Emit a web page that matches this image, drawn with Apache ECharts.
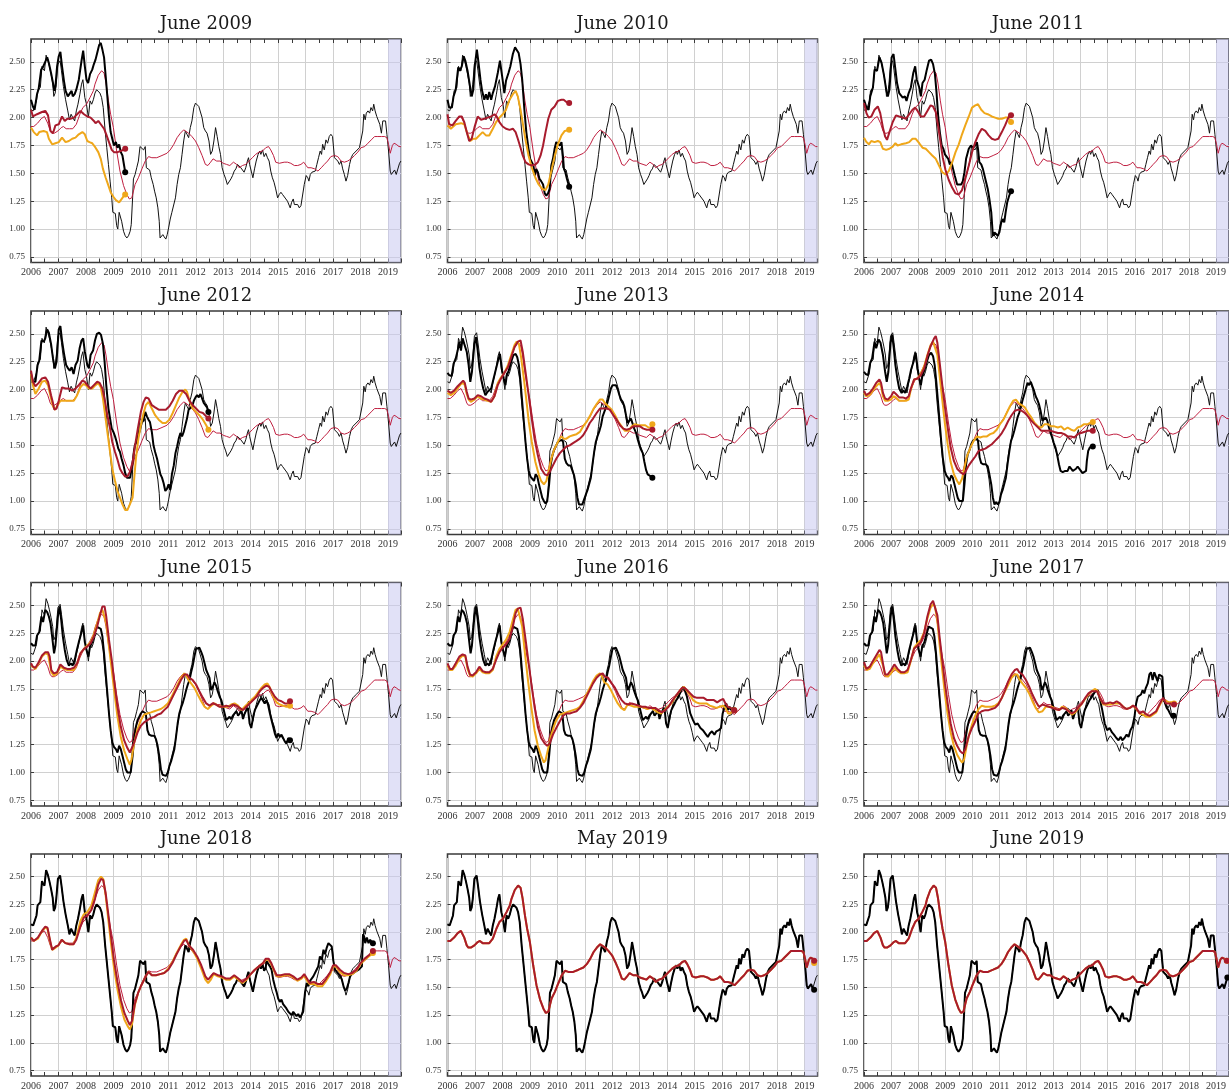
<!DOCTYPE html>
<html>
<head>
<meta charset="utf-8">
<script src="https://cdn.jsdelivr.net/npm/echarts@6/dist/echarts.min.js"></script>
<style>
html,body{margin:0;padding:0;background:#ffffff;}
#chart{width:1229px;height:1091px;}
</style>
</head>
<body>
<div id="chart"></div>
<script>
// ---------- Data: [decimal year, value] ----------

// Latest (fully revised) series, drawn thin in every panel
const finalData = [[2006.00,2.07],[2006.08,2.06],[2006.15,2.06],[2006.20,2.15],[2006.24,2.24],[2006.30,2.25],[2006.34,2.27],[2006.40,2.46],[2006.43,2.44],[2006.49,2.42],[2006.55,2.56],[2006.61,2.52],[2006.67,2.46],[2006.73,2.39],[2006.79,2.31],[2006.83,2.19],[2006.88,2.22],[2006.92,2.30],[2006.98,2.48],[2007.06,2.51],[2007.11,2.42],[2007.18,2.28],[2007.26,2.16],[2007.34,2.06],[2007.40,1.98],[2007.46,2.03],[2007.52,2.00],[2007.59,1.97],[2007.65,2.06],[2007.71,2.12],[2007.78,2.21],[2007.84,2.30],[2007.89,2.34],[2007.96,2.18],[2008.02,2.12],[2008.09,2.00],[2008.15,2.15],[2008.21,2.12],[2008.27,2.16],[2008.33,2.22],[2008.39,2.25],[2008.45,2.24],[2008.51,2.22],[2008.57,2.18],[2008.63,2.09],[2008.70,1.88],[2008.76,1.73],[2008.82,1.58],[2008.88,1.43],[2008.94,1.28],[2008.98,1.15],[2009.02,1.14],[2009.07,1.14],[2009.12,1.03],[2009.16,1.00],[2009.21,1.15],[2009.24,1.16],[2009.30,1.07],[2009.37,0.98],[2009.43,0.94],[2009.49,0.92],[2009.55,0.94],[2009.61,0.98],[2009.65,1.04],[2009.70,1.28],[2009.73,1.45],[2009.79,1.49],[2009.85,1.55],[2009.91,1.61],[2009.97,1.74],[2010.04,1.73],[2010.10,1.71],[2010.16,1.74],[2010.20,1.55],[2010.26,1.54],[2010.32,1.53],[2010.38,1.46],[2010.45,1.40],[2010.50,1.34],[2010.56,1.28],[2010.62,1.19],[2010.67,1.07],[2010.70,0.92],[2010.75,0.93],[2010.80,0.95],[2010.85,0.93],[2010.91,0.91],[2010.96,0.95],[2011.01,1.01],[2011.07,1.09],[2011.13,1.15],[2011.20,1.16],[2011.26,1.28],[2011.32,1.40],[2011.38,1.49],[2011.44,1.55],[2011.50,1.67],[2011.56,1.79],[2011.62,1.88],[2011.68,1.85],[2011.74,1.82],[2011.80,1.91],[2011.86,1.97],[2011.93,2.09],[2011.99,2.13],[2012.05,2.12],[2012.11,2.10],[2012.17,2.09],[2012.23,2.00],[2012.29,1.91],[2012.35,1.88],[2012.41,1.86],[2012.48,1.79],[2012.54,1.67],[2012.60,1.70],[2012.66,1.79],[2012.72,1.91],[2012.78,1.83],[2012.84,1.74],[2012.90,1.67],[2012.96,1.55],[2013.03,1.49],[2013.09,1.45],[2013.15,1.40],[2013.21,1.40],[2013.28,1.45],[2013.34,1.48],[2013.40,1.52],[2013.46,1.54],[2013.52,1.58],[2013.58,1.57],[2013.64,1.55],[2013.70,1.54],[2013.76,1.51],[2013.82,1.55],[2013.88,1.61],[2013.92,1.64],[2013.96,1.58],[2014.02,1.52],[2014.08,1.46],[2014.14,1.54],[2014.20,1.61],[2014.27,1.67],[2014.33,1.70],[2014.37,1.67],[2014.43,1.71],[2014.49,1.65],[2014.55,1.68],[2014.61,1.64],[2014.67,1.61],[2014.73,1.52],[2014.79,1.46],[2014.85,1.42],[2014.91,1.36],[2014.98,1.28],[2015.04,1.31],[2015.10,1.33],[2015.16,1.31],[2015.22,1.30],[2015.28,1.27],[2015.34,1.25],[2015.40,1.25],[2015.44,1.19],[2015.49,1.24],[2015.55,1.27],[2015.59,1.22],[2015.65,1.21],[2015.71,1.22],[2015.77,1.19],[2015.83,1.21],[2015.89,1.21],[2015.95,1.40],[2016.02,1.48],[2016.08,1.46],[2016.12,1.43],[2016.17,1.49],[2016.23,1.51],[2016.29,1.52],[2016.35,1.52],[2016.41,1.58],[2016.47,1.64],[2016.53,1.70],[2016.58,1.67],[2016.62,1.76],[2016.68,1.71],[2016.74,1.80],[2016.80,1.77],[2016.86,1.83],[2016.92,1.85],[2016.98,1.83],[2017.05,1.64],[2017.11,1.63],[2017.17,1.61],[2017.23,1.58],[2017.29,1.61],[2017.35,1.54],[2017.41,1.49],[2017.47,1.43],[2017.53,1.48],[2017.60,1.58],[2017.66,1.64],[2017.72,1.67],[2017.78,1.68],[2017.84,1.70],[2017.90,1.70],[2017.96,1.73],[2018.02,1.74],[2018.08,1.88],[2018.12,2.03],[2018.17,1.98],[2018.21,2.04],[2018.27,2.06],[2018.33,2.04],[2018.38,2.09],[2018.44,2.06],[2018.48,2.12],[2018.53,2.06],[2018.59,2.01],[2018.65,2.01],[2018.70,1.94],[2018.76,1.86],[2018.81,1.97],[2018.87,1.97],[2018.91,1.97],[2018.96,1.85],[2019.02,1.70],[2019.08,1.52],[2019.12,1.49],[2019.18,1.50],[2019.24,1.53],[2019.30,1.49],[2019.36,1.50],[2019.42,1.59],[2019.47,1.61]];

const finalTrend = [[2006.00,1.92],[2006.10,1.92],[2006.24,1.95],[2006.37,1.99],[2006.49,2.01],[2006.55,2.00],[2006.61,1.95],[2006.70,1.88],[2006.76,1.86],[2006.85,1.86],[2006.98,1.88],[2007.10,1.91],[2007.18,1.92],[2007.28,1.90],[2007.40,1.90],[2007.52,1.90],[2007.65,1.94],[2007.78,2.03],[2007.89,2.09],[2008.02,2.12],[2008.15,2.18],[2008.27,2.24],[2008.33,2.30],[2008.45,2.38],[2008.57,2.42],[2008.66,2.40],[2008.73,2.31],[2008.82,2.15],[2008.90,2.03],[2009.00,1.91],[2009.12,1.70],[2009.24,1.52],[2009.37,1.39],[2009.49,1.31],[2009.58,1.27],[2009.67,1.28],[2009.79,1.40],[2009.91,1.46],[2010.04,1.54],[2010.16,1.61],[2010.28,1.65],[2010.40,1.64],[2010.58,1.64],[2010.77,1.66],[2010.95,1.68],[2011.07,1.71],[2011.20,1.76],[2011.32,1.82],[2011.44,1.86],[2011.56,1.89],[2011.62,1.89],[2011.74,1.86],[2011.86,1.83],[2011.99,1.79],[2012.11,1.73],[2012.23,1.66],[2012.35,1.58],[2012.44,1.57],[2012.54,1.60],[2012.63,1.63],[2012.76,1.61],[2012.88,1.61],[2013.00,1.59],[2013.12,1.58],[2013.24,1.57],[2013.37,1.60],[2013.49,1.58],[2013.58,1.55],[2013.70,1.57],[2013.82,1.58],[2013.94,1.61],[2014.06,1.64],[2014.18,1.67],[2014.30,1.69],[2014.43,1.70],[2014.55,1.73],[2014.65,1.74],[2014.73,1.71],[2014.83,1.66],[2014.91,1.60],[2015.04,1.59],[2015.22,1.60],[2015.34,1.60],[2015.46,1.59],[2015.59,1.57],[2015.71,1.57],[2015.83,1.58],[2015.93,1.60],[2016.02,1.57],[2016.08,1.55],[2016.20,1.55],[2016.33,1.54],[2016.45,1.52],[2016.57,1.55],[2016.68,1.58],[2016.80,1.61],[2016.92,1.65],[2017.05,1.66],[2017.17,1.65],[2017.29,1.61],[2017.41,1.60],[2017.53,1.61],[2017.66,1.63],[2017.78,1.66],[2017.90,1.69],[2018.02,1.73],[2018.15,1.74],[2018.27,1.77],[2018.39,1.80],[2018.51,1.83],[2018.63,1.83],[2018.76,1.83],[2018.88,1.83],[2018.96,1.82],[2019.02,1.76],[2019.08,1.68],[2019.16,1.75],[2019.22,1.77],[2019.30,1.76],[2019.40,1.74],[2019.47,1.74]];

// Real-time vintages (thick black), real-time trend (thick red), alternative trend (thick orange)
const rtData2009 = [[2006.00,2.16],[2006.07,2.10],[2006.13,2.07],[2006.22,2.21],[2006.28,2.26],[2006.37,2.43],[2006.43,2.45],[2006.50,2.46],[2006.59,2.54],[2006.65,2.49],[2006.73,2.40],[2006.80,2.31],[2006.85,2.24],[2006.89,2.28],[2006.95,2.46],[2007.01,2.55],[2007.07,2.59],[2007.13,2.46],[2007.20,2.33],[2007.26,2.24],[2007.34,2.19],[2007.40,2.18],[2007.48,2.24],[2007.52,2.19],[2007.59,2.21],[2007.65,2.25],[2007.74,2.34],[2007.84,2.51],[2007.90,2.60],[2007.96,2.46],[2008.02,2.34],[2008.08,2.31],[2008.15,2.39],[2008.23,2.43],[2008.29,2.48],[2008.35,2.52],[2008.41,2.58],[2008.48,2.65],[2008.54,2.67],[2008.60,2.61],[2008.66,2.54],[2008.72,2.37],[2008.78,2.19],[2008.84,2.01],[2008.90,1.87],[2008.96,1.81],[2009.02,1.75],[2009.09,1.78],[2009.15,1.73],[2009.21,1.76],[2009.27,1.69],[2009.33,1.66],[2009.39,1.57],[2009.43,1.51]];
const rtTrend2009 = [[2006.00,2.07],[2006.07,2.01],[2006.22,2.03],[2006.40,2.05],[2006.52,2.06],[2006.62,2.02],[2006.71,1.88],[2006.80,1.86],[2006.89,1.93],[2007.01,1.94],[2007.13,2.01],[2007.23,1.97],[2007.32,1.99],[2007.44,1.99],[2007.56,2.00],[2007.68,2.03],[2007.80,2.06],[2007.93,2.03],[2008.05,2.01],[2008.17,2.00],[2008.29,1.97],[2008.35,1.95],[2008.45,1.97],[2008.54,1.94],[2008.66,1.90],[2008.74,1.85],[2008.84,1.78],[2008.94,1.71],[2009.02,1.69],[2009.15,1.69],[2009.27,1.70],[2009.35,1.71],[2009.43,1.72]];
const rtAlt2009 = [[2006.00,1.91],[2006.10,1.87],[2006.22,1.84],[2006.30,1.87],[2006.46,1.88],[2006.58,1.87],[2006.65,1.81],[2006.77,1.76],[2006.89,1.77],[2007.01,1.78],[2007.13,1.82],[2007.26,1.78],[2007.38,1.79],[2007.50,1.81],[2007.62,1.82],[2007.74,1.85],[2007.87,1.87],[2007.96,1.85],[2008.05,1.79],[2008.13,1.78],[2008.23,1.77],[2008.35,1.73],[2008.45,1.69],[2008.54,1.63],[2008.62,1.54],[2008.72,1.46],[2008.82,1.39],[2008.90,1.33],[2009.00,1.29],[2009.09,1.26],[2009.21,1.24],[2009.27,1.25],[2009.33,1.28],[2009.39,1.30],[2009.43,1.31]];

const rtData2010 = [[2006.00,2.16],[2006.06,2.09],[2006.16,2.09],[2006.22,2.19],[2006.30,2.25],[2006.39,2.45],[2006.45,2.42],[2006.52,2.46],[2006.59,2.55],[2006.65,2.51],[2006.73,2.42],[2006.82,2.28],[2006.88,2.19],[2006.94,2.25],[2007.00,2.48],[2007.07,2.61],[2007.13,2.49],[2007.20,2.34],[2007.26,2.24],[2007.34,2.16],[2007.40,2.21],[2007.46,2.16],[2007.52,2.23],[2007.59,2.16],[2007.65,2.22],[2007.73,2.28],[2007.83,2.40],[2007.91,2.51],[2007.99,2.37],[2008.07,2.22],[2008.13,2.33],[2008.22,2.40],[2008.29,2.46],[2008.38,2.57],[2008.46,2.63],[2008.52,2.63],[2008.59,2.58],[2008.66,2.48],[2008.72,2.34],[2008.80,2.07],[2008.87,1.87],[2008.95,1.72],[2009.01,1.63],[2009.07,1.60],[2009.13,1.57],[2009.18,1.48],[2009.23,1.54],[2009.29,1.51],[2009.35,1.45],[2009.41,1.43],[2009.48,1.40],[2009.54,1.32],[2009.60,1.30],[2009.66,1.32],[2009.72,1.36],[2009.78,1.57],[2009.84,1.63],[2009.90,1.72],[2009.96,1.78],[2010.02,1.79],[2010.09,1.75],[2010.15,1.78],[2010.21,1.64],[2010.24,1.54],[2010.29,1.51],[2010.35,1.45],[2010.43,1.38]];
const rtTrend2010 = [[2006.00,2.03],[2006.06,1.94],[2006.18,1.93],[2006.30,1.97],[2006.43,2.01],[2006.52,2.01],[2006.61,1.96],[2006.70,1.87],[2006.79,1.79],[2006.88,1.81],[2006.98,1.91],[2007.10,2.01],[2007.22,1.98],[2007.34,1.99],[2007.46,2.00],[2007.59,2.01],[2007.71,2.03],[2007.79,2.01],[2007.89,1.96],[2008.01,1.92],[2008.13,1.90],[2008.26,1.89],[2008.38,1.90],[2008.48,1.87],[2008.56,1.81],[2008.66,1.73],[2008.74,1.66],[2008.84,1.60],[2008.95,1.58],[2009.07,1.57],[2009.20,1.58],[2009.29,1.60],[2009.39,1.66],[2009.48,1.75],[2009.57,1.87],[2009.67,1.99],[2009.78,2.07],[2009.90,2.10],[2010.02,2.15],[2010.15,2.16],[2010.23,2.16],[2010.33,2.14],[2010.43,2.13]];
const rtAlt2010 = [[2006.00,1.93],[2006.12,1.90],[2006.30,1.94],[2006.49,1.95],[2006.61,1.94],[2006.73,1.85],[2006.83,1.79],[2006.94,1.81],[2007.04,1.81],[2007.16,1.84],[2007.28,1.87],[2007.40,1.84],[2007.52,1.84],[2007.65,1.90],[2007.77,1.96],[2007.89,2.00],[2008.01,2.03],[2008.13,2.07],[2008.26,2.16],[2008.38,2.21],[2008.48,2.24],[2008.56,2.19],[2008.66,2.07],[2008.74,1.95],[2008.84,1.80],[2008.95,1.66],[2009.07,1.55],[2009.20,1.46],[2009.32,1.40],[2009.45,1.36],[2009.57,1.35],[2009.67,1.40],[2009.78,1.52],[2009.90,1.65],[2010.02,1.76],[2010.15,1.84],[2010.27,1.88],[2010.43,1.89]];

const rtData2011 = [[2006.00,2.16],[2006.09,2.09],[2006.17,2.07],[2006.23,2.19],[2006.33,2.27],[2006.39,2.43],[2006.48,2.42],[2006.57,2.54],[2006.65,2.49],[2006.73,2.39],[2006.82,2.25],[2006.88,2.19],[2006.94,2.25],[2007.02,2.54],[2007.09,2.57],[2007.16,2.43],[2007.22,2.31],[2007.30,2.22],[2007.37,2.21],[2007.43,2.18],[2007.51,2.19],[2007.57,2.15],[2007.65,2.22],[2007.73,2.27],[2007.82,2.40],[2007.89,2.46],[2007.95,2.34],[2008.04,2.27],[2008.10,2.19],[2008.16,2.31],[2008.24,2.34],[2008.32,2.43],[2008.40,2.51],[2008.48,2.52],[2008.55,2.48],[2008.62,2.39],[2008.68,2.22],[2008.74,2.01],[2008.80,1.87],[2008.87,1.75],[2008.93,1.72],[2008.99,1.67],[2009.05,1.66],[2009.11,1.63],[2009.17,1.58],[2009.23,1.60],[2009.29,1.54],[2009.35,1.48],[2009.44,1.40],[2009.50,1.40],[2009.59,1.40],[2009.65,1.43],[2009.71,1.51],[2009.77,1.63],[2009.87,1.72],[2009.95,1.75],[2010.02,1.73],[2010.11,1.75],[2010.17,1.78],[2010.21,1.72],[2010.26,1.60],[2010.33,1.58],[2010.39,1.54],[2010.45,1.48],[2010.51,1.42],[2010.57,1.36],[2010.63,1.27],[2010.70,1.15],[2010.76,0.94],[2010.82,0.97],[2010.88,0.97],[2010.94,0.94],[2011.00,0.97],[2011.06,1.05],[2011.12,1.09],[2011.18,1.06],[2011.23,1.15],[2011.29,1.24],[2011.35,1.29],[2011.43,1.34]];
const rtTrend2011 = [[2006.00,2.13],[2006.09,2.04],[2006.17,2.00],[2006.27,2.01],[2006.39,2.07],[2006.51,2.10],[2006.60,2.04],[2006.70,1.91],[2006.78,1.83],[2006.85,1.80],[2006.94,1.87],[2007.06,1.96],[2007.18,2.02],[2007.30,2.01],[2007.43,2.00],[2007.55,1.99],[2007.67,2.03],[2007.79,2.07],[2007.89,2.09],[2007.98,2.06],[2008.10,2.01],[2008.22,2.01],[2008.34,2.06],[2008.46,2.11],[2008.55,2.10],[2008.65,2.05],[2008.74,1.92],[2008.83,1.77],[2008.91,1.64],[2009.01,1.53],[2009.13,1.44],[2009.26,1.37],[2009.38,1.32],[2009.50,1.31],[2009.62,1.35],[2009.74,1.45],[2009.87,1.57],[2009.99,1.69],[2010.11,1.78],[2010.23,1.85],[2010.35,1.90],[2010.48,1.88],[2010.60,1.84],[2010.72,1.81],[2010.84,1.80],[2010.96,1.81],[2011.09,1.87],[2011.21,1.93],[2011.33,2.00],[2011.43,2.02]];
const rtAlt2011 = [[2006.00,1.82],[2006.09,1.78],[2006.18,1.76],[2006.27,1.79],[2006.39,1.78],[2006.51,1.79],[2006.60,1.78],[2006.70,1.72],[2006.82,1.71],[2006.94,1.72],[2007.06,1.74],[2007.16,1.77],[2007.24,1.75],[2007.37,1.76],[2007.55,1.77],[2007.67,1.78],[2007.79,1.81],[2007.91,1.81],[2008.04,1.77],[2008.16,1.73],[2008.28,1.72],[2008.40,1.69],[2008.52,1.66],[2008.65,1.63],[2008.77,1.57],[2008.89,1.51],[2009.01,1.49],[2009.13,1.52],[2009.26,1.60],[2009.38,1.69],[2009.50,1.76],[2009.62,1.85],[2009.74,1.93],[2009.87,2.01],[2009.99,2.09],[2010.11,2.11],[2010.21,2.12],[2010.33,2.07],[2010.45,2.04],[2010.57,2.03],[2010.72,2.01],[2010.84,2.00],[2010.96,1.99],[2011.09,1.99],[2011.21,2.00],[2011.33,2.00],[2011.43,1.96]];

const rtData2012 = [[2006.00,2.14],[2006.07,2.07],[2006.16,2.07],[2006.24,2.22],[2006.30,2.26],[2006.38,2.44],[2006.46,2.43],[2006.52,2.46],[2006.59,2.54],[2006.65,2.51],[2006.73,2.41],[2006.80,2.28],[2006.87,2.19],[2006.93,2.25],[2007.01,2.54],[2007.07,2.57],[2007.13,2.44],[2007.21,2.31],[2007.28,2.22],[2007.35,2.19],[2007.41,2.17],[2007.48,2.20],[2007.55,2.14],[2007.62,2.22],[2007.70,2.26],[2007.77,2.37],[2007.84,2.44],[2007.90,2.46],[2007.96,2.34],[2008.05,2.22],[2008.11,2.19],[2008.17,2.31],[2008.26,2.35],[2008.33,2.44],[2008.40,2.50],[2008.48,2.51],[2008.55,2.49],[2008.62,2.41],[2008.68,2.25],[2008.74,2.04],[2008.82,1.83],[2008.88,1.74],[2008.94,1.65],[2009.00,1.62],[2009.06,1.58],[2009.12,1.53],[2009.18,1.47],[2009.24,1.44],[2009.30,1.38],[2009.37,1.32],[2009.43,1.25],[2009.49,1.21],[2009.55,1.20],[2009.61,1.21],[2009.67,1.22],[2009.72,1.38],[2009.78,1.50],[2009.84,1.53],[2009.91,1.59],[2009.98,1.65],[2010.04,1.71],[2010.10,1.73],[2010.16,1.80],[2010.22,1.76],[2010.28,1.73],[2010.33,1.71],[2010.40,1.62],[2010.46,1.50],[2010.52,1.44],[2010.59,1.38],[2010.65,1.31],[2010.71,1.24],[2010.77,1.21],[2010.83,1.16],[2010.89,1.09],[2010.95,1.11],[2011.01,1.15],[2011.07,1.10],[2011.13,1.24],[2011.20,1.32],[2011.26,1.43],[2011.32,1.49],[2011.38,1.56],[2011.44,1.61],[2011.50,1.58],[2011.56,1.62],[2011.62,1.68],[2011.68,1.74],[2011.74,1.82],[2011.80,1.83],[2011.87,1.85],[2011.93,1.90],[2011.99,1.93],[2012.05,1.95],[2012.11,1.93],[2012.17,1.96],[2012.23,1.92],[2012.29,1.88],[2012.35,1.86],[2012.41,1.84],[2012.46,1.80]];
const rtTrend2012 = [[2006.00,2.17],[2006.07,2.07],[2006.16,2.03],[2006.28,2.06],[2006.40,2.10],[2006.52,2.11],[2006.62,2.07],[2006.73,1.95],[2006.80,1.88],[2006.85,1.82],[2006.93,1.83],[2007.01,1.90],[2007.13,2.02],[2007.26,2.01],[2007.38,2.01],[2007.50,1.99],[2007.62,2.01],[2007.74,2.04],[2007.87,2.08],[2007.96,2.07],[2008.05,2.04],[2008.17,2.01],[2008.29,2.04],[2008.41,2.07],[2008.50,2.06],[2008.60,2.01],[2008.70,1.89],[2008.78,1.77],[2008.88,1.65],[2008.96,1.53],[2009.06,1.44],[2009.15,1.37],[2009.24,1.29],[2009.33,1.25],[2009.43,1.22],[2009.51,1.22],[2009.60,1.26],[2009.70,1.35],[2009.79,1.50],[2009.89,1.65],[2010.00,1.80],[2010.10,1.89],[2010.18,1.93],[2010.28,1.92],[2010.40,1.86],[2010.52,1.84],[2010.65,1.82],[2010.79,1.82],[2010.91,1.82],[2011.04,1.85],[2011.16,1.90],[2011.28,1.96],[2011.40,1.99],[2011.52,1.99],[2011.65,1.96],[2011.77,1.90],[2011.89,1.86],[2012.01,1.83],[2012.13,1.80],[2012.26,1.79],[2012.38,1.76],[2012.46,1.74]];
const rtAlt2012 = [[2006.00,2.14],[2006.07,2.04],[2006.16,1.96],[2006.28,2.01],[2006.40,2.07],[2006.52,2.08],[2006.62,2.04],[2006.73,1.92],[2006.80,1.85],[2006.87,1.82],[2006.95,1.85],[2007.07,1.90],[2007.20,1.90],[2007.32,1.90],[2007.44,1.90],[2007.56,1.90],[2007.68,1.95],[2007.80,2.02],[2007.90,2.05],[2007.99,2.04],[2008.11,2.01],[2008.23,2.01],[2008.35,2.04],[2008.45,2.06],[2008.54,2.02],[2008.62,1.92],[2008.70,1.77],[2008.78,1.62],[2008.88,1.44],[2008.96,1.29],[2009.06,1.18],[2009.15,1.09],[2009.24,1.03],[2009.33,0.97],[2009.43,0.92],[2009.51,0.92],[2009.60,0.97],[2009.70,1.03],[2009.76,1.21],[2009.82,1.38],[2009.91,1.56],[2010.00,1.68],[2010.10,1.79],[2010.18,1.86],[2010.28,1.89],[2010.40,1.83],[2010.52,1.77],[2010.65,1.73],[2010.79,1.70],[2010.91,1.70],[2011.04,1.73],[2011.16,1.79],[2011.28,1.86],[2011.40,1.93],[2011.52,1.98],[2011.62,2.00],[2011.68,1.98],[2011.77,1.90],[2011.89,1.83],[2012.01,1.80],[2012.13,1.77],[2012.26,1.73],[2012.38,1.68],[2012.46,1.64]];

const rtData2013 = [[2006.00,2.15],[2006.06,2.13],[2006.15,2.12],[2006.22,2.23],[2006.30,2.28],[2006.37,2.35],[2006.43,2.43],[2006.49,2.35],[2006.55,2.46],[2006.61,2.41],[2006.70,2.34],[2006.77,2.22],[2006.83,2.07],[2006.89,2.16],[2006.98,2.41],[2007.04,2.47],[2007.10,2.35],[2007.16,2.20],[2007.23,2.09],[2007.30,2.01],[2007.38,1.95],[2007.46,1.98],[2007.52,1.97],[2007.59,2.01],[2007.67,2.09],[2007.74,2.16],[2007.83,2.25],[2007.91,2.32],[2007.99,2.17],[2008.05,2.10],[2008.11,2.04],[2008.16,2.13],[2008.23,2.17],[2008.32,2.25],[2008.40,2.31],[2008.48,2.32],[2008.54,2.29],[2008.60,2.22],[2008.66,2.07],[2008.72,1.89],[2008.78,1.71],[2008.84,1.53],[2008.90,1.38],[2008.96,1.27],[2009.02,1.22],[2009.09,1.21],[2009.15,1.18],[2009.21,1.24],[2009.27,1.22],[2009.33,1.15],[2009.39,1.09],[2009.45,1.03],[2009.51,1.00],[2009.57,0.98],[2009.63,1.00],[2009.70,1.15],[2009.76,1.33],[2009.82,1.41],[2009.88,1.46],[2009.96,1.50],[2010.02,1.53],[2010.09,1.54],[2010.15,1.55],[2010.21,1.53],[2010.27,1.38],[2010.33,1.34],[2010.40,1.32],[2010.48,1.32],[2010.55,1.31],[2010.61,1.23],[2010.67,1.15],[2010.73,1.03],[2010.79,0.97],[2010.85,0.98],[2010.91,0.97],[2010.98,0.98],[2011.04,1.06],[2011.10,1.10],[2011.16,1.09],[2011.22,1.21],[2011.28,1.33],[2011.34,1.44],[2011.40,1.53],[2011.46,1.58],[2011.52,1.62],[2011.59,1.68],[2011.65,1.76],[2011.71,1.80],[2011.77,1.84],[2011.83,1.89],[2011.89,1.95],[2011.95,2.01],[2012.01,2.04],[2012.07,2.03],[2012.13,2.04],[2012.20,2.00],[2012.26,1.95],[2012.32,1.91],[2012.38,1.89],[2012.44,1.85],[2012.50,1.77],[2012.56,1.70],[2012.62,1.71],[2012.68,1.74],[2012.74,1.73],[2012.80,1.65],[2012.87,1.61],[2012.93,1.55],[2012.99,1.50],[2013.05,1.46],[2013.11,1.43],[2013.17,1.35],[2013.23,1.28],[2013.29,1.24],[2013.35,1.23],[2013.41,1.22],[2013.46,1.21]];
const rtTrend2013 = [[2006.00,1.99],[2006.12,1.97],[2006.24,1.99],[2006.37,2.03],[2006.49,2.06],[2006.57,2.08],[2006.63,2.06],[2006.70,1.98],[2006.77,1.92],[2006.85,1.91],[2006.98,1.92],[2007.10,1.95],[2007.22,1.94],[2007.34,1.92],[2007.46,1.91],[2007.59,1.89],[2007.71,1.94],[2007.83,2.04],[2007.95,2.10],[2008.07,2.15],[2008.20,2.20],[2008.32,2.29],[2008.44,2.38],[2008.56,2.43],[2008.66,2.44],[2008.74,2.34],[2008.84,2.16],[2008.94,1.98],[2009.05,1.77],[2009.17,1.56],[2009.29,1.41],[2009.41,1.29],[2009.54,1.24],[2009.63,1.23],[2009.72,1.26],[2009.84,1.32],[2009.96,1.38],[2010.09,1.43],[2010.21,1.46],[2010.33,1.49],[2010.45,1.50],[2010.57,1.52],[2010.70,1.54],[2010.82,1.56],[2010.94,1.59],[2011.06,1.64],[2011.18,1.70],[2011.30,1.74],[2011.43,1.79],[2011.55,1.83],[2011.67,1.83],[2011.79,1.83],[2011.91,1.82],[2012.04,1.77],[2012.16,1.73],[2012.28,1.68],[2012.40,1.65],[2012.52,1.64],[2012.65,1.65],[2012.77,1.67],[2012.89,1.67],[2013.01,1.67],[2013.13,1.65],[2013.26,1.64],[2013.38,1.64],[2013.46,1.64]];
const rtAlt2013 = [[2006.00,1.97],[2006.12,1.95],[2006.24,1.97],[2006.37,2.01],[2006.49,2.05],[2006.57,2.06],[2006.63,2.04],[2006.70,1.96],[2006.77,1.91],[2006.85,1.89],[2006.98,1.91],[2007.10,1.94],[2007.22,1.92],[2007.34,1.91],[2007.46,1.90],[2007.59,1.89],[2007.71,1.94],[2007.83,2.06],[2007.95,2.11],[2008.07,2.15],[2008.20,2.22],[2008.32,2.31],[2008.44,2.40],[2008.52,2.43],[2008.60,2.41],[2008.68,2.29],[2008.78,2.10],[2008.87,1.91],[2008.96,1.71],[2009.07,1.53],[2009.20,1.35],[2009.32,1.24],[2009.41,1.18],[2009.51,1.15],[2009.60,1.18],[2009.70,1.29],[2009.78,1.38],[2009.88,1.46],[2009.96,1.50],[2010.06,1.55],[2010.15,1.58],[2010.23,1.56],[2010.33,1.56],[2010.45,1.58],[2010.57,1.59],[2010.70,1.60],[2010.82,1.62],[2010.94,1.67],[2011.06,1.71],[2011.18,1.76],[2011.30,1.82],[2011.43,1.87],[2011.55,1.91],[2011.65,1.91],[2011.73,1.88],[2011.85,1.85],[2011.98,1.82],[2012.10,1.77],[2012.22,1.71],[2012.34,1.67],[2012.46,1.63],[2012.59,1.63],[2012.71,1.67],[2012.83,1.69],[2012.95,1.68],[2013.07,1.68],[2013.20,1.68],[2013.32,1.66],[2013.40,1.66],[2013.46,1.69]];

const rtData2014 = [[2006.00,2.16],[2006.06,2.14],[2006.15,2.13],[2006.23,2.24],[2006.30,2.28],[2006.39,2.43],[2006.45,2.37],[2006.54,2.45],[2006.61,2.42],[2006.70,2.31],[2006.78,2.16],[2006.84,2.07],[2006.90,2.16],[2006.98,2.42],[2007.04,2.49],[2007.10,2.37],[2007.16,2.22],[2007.23,2.10],[2007.30,2.01],[2007.39,1.97],[2007.46,1.99],[2007.52,1.97],[2007.60,2.03],[2007.67,2.10],[2007.74,2.18],[2007.83,2.25],[2007.91,2.33],[2007.98,2.19],[2008.04,2.10],[2008.10,2.04],[2008.16,2.13],[2008.24,2.18],[2008.32,2.25],[2008.40,2.31],[2008.48,2.33],[2008.55,2.30],[2008.61,2.22],[2008.67,2.07],[2008.73,1.90],[2008.79,1.72],[2008.85,1.54],[2008.91,1.39],[2008.98,1.27],[2009.04,1.23],[2009.10,1.21],[2009.16,1.18],[2009.22,1.23],[2009.28,1.21],[2009.34,1.15],[2009.40,1.09],[2009.46,1.03],[2009.52,1.00],[2009.59,0.99],[2009.65,1.00],[2009.71,1.15],[2009.77,1.33],[2009.83,1.42],[2009.90,1.46],[2009.96,1.51],[2010.02,1.54],[2010.09,1.55],[2010.15,1.56],[2010.21,1.54],[2010.27,1.39],[2010.33,1.34],[2010.41,1.33],[2010.50,1.33],[2010.57,1.31],[2010.63,1.24],[2010.70,1.15],[2010.76,1.03],[2010.82,0.97],[2010.88,0.99],[2010.94,0.97],[2011.00,0.99],[2011.06,1.06],[2011.12,1.10],[2011.18,1.10],[2011.24,1.21],[2011.30,1.33],[2011.37,1.45],[2011.43,1.54],[2011.49,1.58],[2011.55,1.63],[2011.61,1.69],[2011.67,1.75],[2011.73,1.79],[2011.79,1.84],[2011.85,1.90],[2011.91,1.95],[2011.98,2.01],[2012.04,2.06],[2012.10,2.04],[2012.16,2.07],[2012.22,2.03],[2012.28,1.99],[2012.34,1.94],[2012.40,1.91],[2012.46,1.87],[2012.52,1.81],[2012.59,1.72],[2012.65,1.73],[2012.71,1.75],[2012.77,1.72],[2012.83,1.66],[2012.89,1.61],[2012.95,1.57],[2013.01,1.52],[2013.07,1.48],[2013.13,1.42],[2013.20,1.33],[2013.26,1.27],[2013.34,1.26],[2013.43,1.27],[2013.52,1.27],[2013.59,1.31],[2013.65,1.32],[2013.71,1.27],[2013.77,1.26],[2013.83,1.29],[2013.89,1.31],[2013.95,1.32],[2014.01,1.27],[2014.07,1.25],[2014.13,1.24],[2014.20,1.27],[2014.23,1.36],[2014.28,1.45],[2014.34,1.48],[2014.40,1.48],[2014.45,1.49]];
const rtTrend2014 = [[2006.00,1.99],[2006.08,1.95],[2006.21,1.97],[2006.33,2.01],[2006.45,2.06],[2006.57,2.09],[2006.63,2.06],[2006.70,1.97],[2006.78,1.92],[2006.88,1.91],[2007.00,1.94],[2007.09,1.98],[2007.18,1.96],[2007.30,1.93],[2007.43,1.93],[2007.55,1.92],[2007.65,1.94],[2007.73,2.01],[2007.85,2.09],[2007.98,2.10],[2008.10,2.13],[2008.22,2.19],[2008.34,2.30],[2008.46,2.39],[2008.59,2.46],[2008.65,2.48],[2008.71,2.42],[2008.79,2.25],[2008.89,2.04],[2008.99,1.84],[2009.09,1.66],[2009.20,1.48],[2009.32,1.36],[2009.44,1.29],[2009.56,1.26],[2009.68,1.24],[2009.74,1.26],[2009.87,1.32],[2009.99,1.36],[2010.11,1.40],[2010.23,1.45],[2010.35,1.46],[2010.48,1.47],[2010.60,1.49],[2010.72,1.51],[2010.84,1.54],[2010.96,1.57],[2011.09,1.61],[2011.21,1.66],[2011.33,1.72],[2011.45,1.77],[2011.57,1.81],[2011.70,1.82],[2011.82,1.81],[2011.94,1.79],[2012.06,1.76],[2012.18,1.72],[2012.30,1.69],[2012.43,1.66],[2012.55,1.63],[2012.67,1.63],[2012.79,1.63],[2012.91,1.63],[2013.03,1.62],[2013.16,1.61],[2013.28,1.61],[2013.40,1.60],[2013.52,1.58],[2013.65,1.58],[2013.77,1.57],[2013.89,1.60],[2014.01,1.61],[2014.13,1.62],[2014.26,1.63],[2014.35,1.63],[2014.45,1.63]];
const rtAlt2014 = [[2006.00,1.97],[2006.08,1.94],[2006.21,1.95],[2006.33,1.99],[2006.45,2.03],[2006.57,2.06],[2006.63,2.03],[2006.70,1.94],[2006.78,1.90],[2006.88,1.90],[2007.00,1.91],[2007.09,1.94],[2007.18,1.93],[2007.30,1.90],[2007.43,1.90],[2007.55,1.90],[2007.65,1.91],[2007.73,2.00],[2007.85,2.09],[2007.98,2.10],[2008.10,2.14],[2008.22,2.21],[2008.34,2.31],[2008.46,2.40],[2008.55,2.43],[2008.62,2.42],[2008.71,2.31],[2008.79,2.13],[2008.89,1.91],[2008.99,1.69],[2009.09,1.51],[2009.20,1.35],[2009.32,1.24],[2009.44,1.18],[2009.52,1.15],[2009.62,1.20],[2009.71,1.30],[2009.80,1.40],[2009.93,1.48],[2010.05,1.54],[2010.17,1.58],[2010.29,1.57],[2010.41,1.58],[2010.54,1.58],[2010.66,1.60],[2010.78,1.61],[2010.90,1.64],[2011.02,1.69],[2011.15,1.73],[2011.27,1.79],[2011.39,1.85],[2011.51,1.90],[2011.61,1.91],[2011.70,1.88],[2011.82,1.86],[2011.94,1.84],[2012.06,1.79],[2012.18,1.75],[2012.30,1.70],[2012.43,1.67],[2012.55,1.66],[2012.67,1.69],[2012.79,1.69],[2012.91,1.67],[2013.03,1.67],[2013.16,1.66],[2013.28,1.67],[2013.40,1.64],[2013.52,1.66],[2013.65,1.64],[2013.77,1.63],[2013.89,1.66],[2014.01,1.67],[2014.13,1.69],[2014.26,1.69],[2014.35,1.70],[2014.45,1.71]];

const rtData2015 = [[2006.00,2.16],[2006.07,2.14],[2006.16,2.14],[2006.22,2.23],[2006.30,2.26],[2006.38,2.40],[2006.44,2.35],[2006.52,2.46],[2006.59,2.44],[2006.65,2.40],[2006.71,2.34],[2006.77,2.22],[2006.84,2.07],[2006.89,2.14],[2006.98,2.40],[2007.04,2.49],[2007.10,2.37],[2007.16,2.22],[2007.23,2.10],[2007.30,2.01],[2007.38,1.96],[2007.45,1.98],[2007.52,1.96],[2007.60,2.02],[2007.67,2.10],[2007.74,2.17],[2007.83,2.25],[2007.90,2.32],[2007.96,2.17],[2008.02,2.10],[2008.09,2.04],[2008.15,2.13],[2008.23,2.17],[2008.32,2.25],[2008.39,2.31],[2008.46,2.32],[2008.54,2.29],[2008.60,2.22],[2008.66,2.07],[2008.72,1.89],[2008.78,1.71],[2008.84,1.53],[2008.90,1.38],[2008.96,1.27],[2009.02,1.23],[2009.09,1.21],[2009.15,1.18],[2009.21,1.24],[2009.27,1.21],[2009.33,1.15],[2009.39,1.09],[2009.45,1.03],[2009.51,1.00],[2009.57,0.99],[2009.63,1.00],[2009.70,1.15],[2009.76,1.32],[2009.82,1.41],[2009.88,1.47],[2009.94,1.50],[2010.00,1.53],[2010.06,1.55],[2010.12,1.56],[2010.18,1.53],[2010.24,1.38],[2010.30,1.34],[2010.39,1.33],[2010.49,1.33],[2010.55,1.30],[2010.61,1.24],[2010.67,1.15],[2010.73,1.03],[2010.79,0.98],[2010.85,0.99],[2010.91,0.97],[2010.98,1.00],[2011.04,1.06],[2011.10,1.10],[2011.16,1.10],[2011.22,1.21],[2011.28,1.32],[2011.34,1.44],[2011.40,1.53],[2011.46,1.58],[2011.52,1.62],[2011.59,1.68],[2011.65,1.74],[2011.71,1.79],[2011.77,1.83],[2011.83,1.90],[2011.89,1.96],[2011.95,2.04],[2012.01,2.11],[2012.07,2.10],[2012.13,2.12],[2012.20,2.08],[2012.26,2.04],[2012.32,1.98],[2012.38,1.92],[2012.44,1.91],[2012.50,1.85],[2012.56,1.74],[2012.62,1.77],[2012.68,1.81],[2012.74,1.78],[2012.80,1.73],[2012.87,1.68],[2012.93,1.65],[2012.99,1.59],[2013.05,1.53],[2013.11,1.47],[2013.17,1.47],[2013.23,1.50],[2013.29,1.48],[2013.35,1.51],[2013.41,1.50],[2013.48,1.55],[2013.54,1.51],[2013.60,1.53],[2013.66,1.56],[2013.72,1.48],[2013.78,1.53],[2013.84,1.56],[2013.90,1.58],[2013.96,1.44],[2014.02,1.40],[2014.09,1.50],[2014.15,1.56],[2014.21,1.59],[2014.27,1.62],[2014.33,1.65],[2014.39,1.67],[2014.45,1.68],[2014.51,1.62],[2014.57,1.65],[2014.63,1.61],[2014.70,1.53],[2014.76,1.47],[2014.82,1.41],[2014.88,1.35],[2014.94,1.31],[2015.00,1.35],[2015.06,1.32],[2015.12,1.34],[2015.18,1.31],[2015.24,1.28],[2015.30,1.26],[2015.37,1.31],[2015.43,1.29]];
const rtTrend2015 = [[2006.00,1.98],[2006.07,1.95],[2006.16,1.94],[2006.28,1.99],[2006.40,2.05],[2006.52,2.08],[2006.62,2.08],[2006.68,2.04],[2006.74,1.92],[2006.83,1.89],[2006.95,1.90],[2007.07,1.97],[2007.20,1.94],[2007.32,1.93],[2007.44,1.93],[2007.56,1.94],[2007.68,1.98],[2007.80,2.07],[2007.93,2.11],[2008.05,2.13],[2008.17,2.16],[2008.29,2.22],[2008.41,2.31],[2008.51,2.41],[2008.60,2.49],[2008.68,2.49],[2008.74,2.40],[2008.84,2.19],[2008.94,2.01],[2009.04,1.80],[2009.15,1.59],[2009.27,1.41],[2009.39,1.29],[2009.51,1.22],[2009.60,1.18],[2009.66,1.19],[2009.76,1.27],[2009.88,1.36],[2010.00,1.42],[2010.12,1.45],[2010.24,1.47],[2010.37,1.49],[2010.49,1.50],[2010.61,1.52],[2010.73,1.53],[2010.85,1.56],[2010.98,1.59],[2011.10,1.65],[2011.22,1.71],[2011.34,1.77],[2011.46,1.83],[2011.59,1.88],[2011.68,1.88],[2011.77,1.85],[2011.89,1.83],[2012.01,1.79],[2012.13,1.73],[2012.26,1.67],[2012.38,1.62],[2012.50,1.60],[2012.62,1.62],[2012.74,1.61],[2012.87,1.59],[2012.99,1.59],[2013.11,1.60],[2013.23,1.59],[2013.35,1.61],[2013.48,1.60],[2013.60,1.58],[2013.72,1.56],[2013.84,1.59],[2013.96,1.62],[2014.09,1.65],[2014.21,1.68],[2014.33,1.73],[2014.45,1.76],[2014.57,1.78],[2014.67,1.77],[2014.76,1.73],[2014.88,1.68],[2015.00,1.65],[2015.12,1.64],[2015.24,1.62],[2015.37,1.62],[2015.43,1.64]];
const rtAlt2015 = [[2006.00,1.96],[2006.16,1.93],[2006.28,1.98],[2006.40,2.04],[2006.52,2.07],[2006.62,2.06],[2006.74,1.90],[2006.83,1.87],[2006.95,1.89],[2007.07,1.95],[2007.20,1.93],[2007.32,1.92],[2007.44,1.92],[2007.56,1.92],[2007.68,1.98],[2007.80,2.07],[2007.93,2.11],[2008.05,2.14],[2008.17,2.17],[2008.29,2.24],[2008.41,2.34],[2008.51,2.43],[2008.60,2.46],[2008.66,2.45],[2008.74,2.34],[2008.84,2.13],[2008.94,1.92],[2009.04,1.71],[2009.15,1.50],[2009.27,1.32],[2009.39,1.20],[2009.51,1.12],[2009.60,1.07],[2009.66,1.12],[2009.76,1.27],[2009.88,1.39],[2010.00,1.47],[2010.12,1.52],[2010.24,1.53],[2010.37,1.54],[2010.49,1.55],[2010.61,1.56],[2010.73,1.57],[2010.85,1.59],[2010.98,1.62],[2011.10,1.67],[2011.22,1.73],[2011.34,1.79],[2011.46,1.85],[2011.59,1.89],[2011.65,1.90],[2011.74,1.83],[2011.83,1.80],[2011.95,1.76],[2012.07,1.70],[2012.20,1.64],[2012.32,1.59],[2012.44,1.57],[2012.56,1.60],[2012.68,1.62],[2012.80,1.60],[2012.93,1.59],[2013.05,1.59],[2013.17,1.59],[2013.29,1.61],[2013.41,1.62],[2013.54,1.60],[2013.66,1.56],[2013.78,1.59],[2013.90,1.62],[2014.02,1.65],[2014.15,1.68],[2014.27,1.72],[2014.39,1.76],[2014.51,1.79],[2014.61,1.80],[2014.70,1.76],[2014.82,1.68],[2014.94,1.63],[2015.06,1.61],[2015.18,1.60],[2015.30,1.59],[2015.43,1.60]];

// Later vintages: revisions after mid-2014 (earlier history as in the June 2015 vintage)
const rtData2016Tail = [[2014.52,1.74],[2014.58,1.77],[2014.65,1.73],[2014.72,1.68],[2014.84,1.53],[2014.94,1.47],[2015.02,1.43],[2015.11,1.44],[2015.21,1.40],[2015.30,1.38],[2015.39,1.35],[2015.48,1.32],[2015.55,1.35],[2015.63,1.37],[2015.72,1.34],[2015.79,1.37],[2015.88,1.38],[2015.96,1.40],[2016.02,1.53],[2016.09,1.59],[2016.15,1.62],[2016.21,1.56],[2016.27,1.59],[2016.33,1.56],[2016.39,1.58],[2016.44,1.56]];
const rtTrend2016 = [[2006.00,1.98],[2006.09,1.93],[2006.18,1.93],[2006.30,1.98],[2006.43,2.04],[2006.55,2.06],[2006.65,2.05],[2006.73,1.95],[2006.82,1.88],[2006.91,1.87],[2007.04,1.90],[2007.16,1.95],[2007.28,1.91],[2007.40,1.90],[2007.52,1.90],[2007.65,1.93],[2007.77,2.01],[2007.89,2.08],[2008.01,2.12],[2008.13,2.15],[2008.26,2.20],[2008.38,2.31],[2008.48,2.43],[2008.56,2.47],[2008.66,2.48],[2008.74,2.38],[2008.84,2.20],[2008.94,2.01],[2009.05,1.80],[2009.17,1.59],[2009.29,1.41],[2009.41,1.31],[2009.54,1.26],[2009.63,1.24],[2009.72,1.26],[2009.84,1.34],[2009.96,1.40],[2010.09,1.46],[2010.21,1.51],[2010.33,1.53],[2010.45,1.53],[2010.57,1.54],[2010.70,1.55],[2010.82,1.58],[2010.94,1.62],[2011.06,1.68],[2011.18,1.74],[2011.30,1.80],[2011.43,1.85],[2011.55,1.88],[2011.65,1.89],[2011.73,1.86],[2011.85,1.85],[2011.98,1.80],[2012.10,1.76],[2012.22,1.70],[2012.34,1.65],[2012.46,1.62],[2012.59,1.61],[2012.71,1.62],[2012.83,1.61],[2012.95,1.60],[2013.07,1.59],[2013.20,1.59],[2013.32,1.58],[2013.44,1.58],[2013.56,1.58],[2013.68,1.56],[2013.80,1.54],[2013.93,1.56],[2014.05,1.59],[2014.17,1.64],[2014.29,1.68],[2014.41,1.72],[2014.54,1.76],[2014.63,1.76],[2014.72,1.74],[2014.84,1.71],[2014.96,1.68],[2015.09,1.67],[2015.21,1.67],[2015.33,1.67],[2015.45,1.65],[2015.57,1.65],[2015.70,1.65],[2015.82,1.63],[2015.94,1.65],[2016.04,1.66],[2016.12,1.62],[2016.21,1.59],[2016.30,1.58],[2016.39,1.57],[2016.44,1.56]];
const rtAlt2016 = [[2006.00,1.96],[2006.09,1.92],[2006.18,1.92],[2006.30,1.96],[2006.43,2.02],[2006.55,2.05],[2006.65,2.04],[2006.73,1.93],[2006.82,1.87],[2006.91,1.86],[2007.04,1.89],[2007.16,1.93],[2007.28,1.90],[2007.40,1.89],[2007.52,1.89],[2007.65,1.92],[2007.77,2.04],[2007.89,2.11],[2008.01,2.15],[2008.13,2.19],[2008.26,2.26],[2008.38,2.37],[2008.48,2.46],[2008.56,2.47],[2008.62,2.46],[2008.72,2.31],[2008.82,2.07],[2008.93,1.83],[2009.05,1.59],[2009.17,1.38],[2009.29,1.24],[2009.41,1.15],[2009.51,1.09],[2009.57,1.11],[2009.66,1.21],[2009.76,1.32],[2009.87,1.41],[2009.96,1.47],[2010.09,1.52],[2010.21,1.53],[2010.33,1.54],[2010.45,1.55],[2010.57,1.56],[2010.70,1.57],[2010.82,1.59],[2010.94,1.64],[2011.06,1.70],[2011.18,1.76],[2011.30,1.82],[2011.43,1.87],[2011.55,1.89],[2011.61,1.87],[2011.71,1.81],[2011.83,1.79],[2011.95,1.74],[2012.07,1.68],[2012.20,1.62],[2012.32,1.58],[2012.44,1.56],[2012.56,1.61],[2012.68,1.60],[2012.80,1.59],[2012.93,1.59],[2013.05,1.59],[2013.17,1.58],[2013.29,1.57],[2013.41,1.58],[2013.54,1.56],[2013.66,1.54],[2013.78,1.53],[2013.90,1.56],[2014.02,1.59],[2014.15,1.62],[2014.27,1.67],[2014.39,1.71],[2014.51,1.75],[2014.60,1.77],[2014.70,1.74],[2014.82,1.70],[2014.94,1.65],[2015.06,1.63],[2015.18,1.62],[2015.30,1.62],[2015.43,1.62],[2015.55,1.60],[2015.67,1.59],[2015.79,1.58],[2015.91,1.59],[2016.04,1.60],[2016.12,1.58],[2016.22,1.53],[2016.30,1.53],[2016.39,1.56],[2016.44,1.56]];

const rtData2017Tail = [[2014.52,1.72],[2014.62,1.74],[2014.72,1.65],[2014.80,1.56],[2014.89,1.44],[2014.98,1.38],[2015.07,1.40],[2015.16,1.36],[2015.23,1.34],[2015.32,1.31],[2015.40,1.29],[2015.48,1.32],[2015.54,1.29],[2015.62,1.31],[2015.70,1.34],[2015.77,1.32],[2015.84,1.38],[2015.91,1.41],[2015.99,1.50],[2016.05,1.62],[2016.11,1.68],[2016.17,1.67],[2016.23,1.70],[2016.29,1.74],[2016.35,1.71],[2016.41,1.76],[2016.48,1.80],[2016.54,1.88],[2016.60,1.90],[2016.66,1.83],[2016.72,1.90],[2016.78,1.86],[2016.84,1.82],[2016.90,1.88],[2016.96,1.89],[2017.02,1.86],[2017.06,1.68],[2017.12,1.62],[2017.18,1.58],[2017.24,1.56],[2017.30,1.53],[2017.37,1.50],[2017.43,1.51]];
const rtTrend2017 = [[2006.00,1.99],[2006.09,1.93],[2006.21,1.95],[2006.33,2.00],[2006.45,2.05],[2006.57,2.10],[2006.63,2.08],[2006.70,1.98],[2006.78,1.88],[2006.88,1.88],[2007.00,1.92],[2007.12,1.97],[2007.24,1.93],[2007.37,1.90],[2007.49,1.90],[2007.61,1.92],[2007.73,2.01],[2007.85,2.11],[2007.98,2.14],[2008.10,2.17],[2008.22,2.25],[2008.34,2.40],[2008.46,2.51],[2008.55,2.54],[2008.62,2.53],[2008.71,2.41],[2008.79,2.22],[2008.89,2.01],[2008.99,1.80],[2009.09,1.62],[2009.20,1.44],[2009.32,1.31],[2009.44,1.24],[2009.56,1.19],[2009.65,1.17],[2009.74,1.21],[2009.87,1.33],[2009.99,1.40],[2010.11,1.46],[2010.23,1.53],[2010.35,1.55],[2010.48,1.56],[2010.60,1.56],[2010.72,1.57],[2010.84,1.58],[2010.96,1.61],[2011.09,1.67],[2011.21,1.74],[2011.33,1.82],[2011.45,1.88],[2011.57,1.92],[2011.66,1.93],[2011.73,1.90],[2011.85,1.88],[2011.98,1.83],[2012.10,1.77],[2012.22,1.70],[2012.34,1.64],[2012.46,1.59],[2012.59,1.61],[2012.71,1.60],[2012.83,1.59],[2012.95,1.58],[2013.07,1.57],[2013.20,1.56],[2013.32,1.58],[2013.44,1.57],[2013.56,1.55],[2013.68,1.53],[2013.80,1.55],[2013.93,1.59],[2014.05,1.62],[2014.17,1.67],[2014.29,1.71],[2014.41,1.73],[2014.50,1.73],[2014.60,1.73],[2014.72,1.67],[2014.84,1.62],[2014.96,1.62],[2015.09,1.63],[2015.21,1.62],[2015.33,1.64],[2015.45,1.62],[2015.57,1.59],[2015.70,1.57],[2015.82,1.58],[2015.94,1.60],[2016.06,1.58],[2016.18,1.53],[2016.30,1.55],[2016.43,1.52],[2016.55,1.51],[2016.67,1.53],[2016.79,1.55],[2016.91,1.61],[2017.04,1.67],[2017.16,1.62],[2017.28,1.62],[2017.38,1.62],[2017.45,1.61]];
const rtAlt2017 = [[2006.00,1.96],[2006.10,1.92],[2006.21,1.93],[2006.33,1.98],[2006.45,2.02],[2006.57,2.06],[2006.63,2.05],[2006.70,1.96],[2006.78,1.87],[2006.88,1.86],[2007.00,1.89],[2007.12,1.94],[2007.24,1.91],[2007.37,1.89],[2007.49,1.89],[2007.61,1.90],[2007.73,2.00],[2007.85,2.12],[2007.98,2.16],[2008.10,2.19],[2008.22,2.26],[2008.34,2.38],[2008.46,2.48],[2008.55,2.51],[2008.62,2.49],[2008.71,2.36],[2008.79,2.15],[2008.89,1.92],[2008.99,1.70],[2009.09,1.52],[2009.20,1.36],[2009.32,1.24],[2009.44,1.16],[2009.56,1.11],[2009.63,1.09],[2009.70,1.12],[2009.80,1.25],[2009.90,1.36],[2010.00,1.44],[2010.11,1.51],[2010.23,1.57],[2010.35,1.60],[2010.48,1.59],[2010.60,1.59],[2010.72,1.59],[2010.84,1.60],[2010.96,1.62],[2011.09,1.67],[2011.21,1.73],[2011.33,1.79],[2011.45,1.85],[2011.57,1.88],[2011.66,1.88],[2011.73,1.84],[2011.85,1.80],[2011.98,1.76],[2012.10,1.71],[2012.22,1.64],[2012.34,1.58],[2012.46,1.54],[2012.59,1.55],[2012.71,1.59],[2012.83,1.59],[2012.95,1.59],[2013.07,1.57],[2013.20,1.56],[2013.32,1.59],[2013.44,1.58],[2013.56,1.55],[2013.68,1.52],[2013.80,1.54],[2013.93,1.58],[2014.05,1.62],[2014.17,1.66],[2014.29,1.70],[2014.41,1.73],[2014.52,1.75],[2014.60,1.74],[2014.72,1.67],[2014.84,1.61],[2014.96,1.61],[2015.09,1.61],[2015.21,1.62],[2015.33,1.62],[2015.45,1.62],[2015.57,1.59],[2015.70,1.57],[2015.82,1.58],[2015.94,1.60],[2016.06,1.57],[2016.18,1.53],[2016.30,1.52],[2016.43,1.50],[2016.55,1.50],[2016.67,1.52],[2016.79,1.54],[2016.91,1.60],[2017.04,1.66],[2017.16,1.64],[2017.28,1.63],[2017.38,1.63],[2017.45,1.62]];

// June 2018 vintage: revisions after mid-2014 (earlier history as in the latest series)
const rtData2018Tail = [[2014.57,1.74],[2014.70,1.69],[2014.76,1.66],[2014.82,1.57],[2014.88,1.51],[2014.94,1.46],[2015.00,1.40],[2015.06,1.37],[2015.12,1.39],[2015.18,1.35],[2015.24,1.34],[2015.30,1.31],[2015.37,1.28],[2015.43,1.29],[2015.49,1.25],[2015.55,1.28],[2015.61,1.26],[2015.67,1.24],[2015.73,1.26],[2015.79,1.23],[2015.85,1.25],[2015.91,1.28],[2015.98,1.46],[2016.04,1.54],[2016.10,1.51],[2016.16,1.56],[2016.22,1.57],[2016.28,1.60],[2016.34,1.59],[2016.40,1.66],[2016.46,1.69],[2016.52,1.78],[2016.59,1.75],[2016.65,1.84],[2016.71,1.80],[2016.77,1.86],[2016.83,1.90],[2016.89,1.89],[2016.95,1.87],[2017.01,1.74],[2017.07,1.66],[2017.13,1.65],[2017.20,1.62],[2017.26,1.60],[2017.32,1.57],[2017.38,1.51],[2017.44,1.47],[2017.50,1.49],[2017.56,1.54],[2017.62,1.60],[2017.68,1.62],[2017.74,1.63],[2017.80,1.64],[2017.87,1.65],[2017.93,1.66],[2017.99,1.66],[2018.05,1.69],[2018.09,1.98],[2018.13,1.96],[2018.17,1.90],[2018.23,1.95],[2018.29,1.90],[2018.35,1.93],[2018.41,1.91],[2018.45,1.90]];
const rtTrend2018 = [[2006.00,1.95],[2006.10,1.92],[2006.25,1.95],[2006.40,2.01],[2006.52,2.05],[2006.60,2.04],[2006.70,1.92],[2006.77,1.84],[2006.90,1.87],[2007.00,1.88],[2007.12,1.93],[2007.25,1.90],[2007.40,1.89],[2007.55,1.89],[2007.65,1.93],[2007.80,2.05],[2007.92,2.13],[2008.05,2.15],[2008.20,2.20],[2008.33,2.30],[2008.45,2.43],[2008.55,2.48],[2008.63,2.47],[2008.72,2.35],[2008.82,2.15],[2008.92,1.95],[2009.02,1.75],[2009.15,1.55],[2009.28,1.38],[2009.40,1.27],[2009.52,1.20],[2009.60,1.16],[2009.68,1.20],[2009.78,1.35],[2009.90,1.45],[2010.00,1.51],[2010.10,1.56],[2010.20,1.61],[2010.28,1.64],[2010.40,1.61],[2010.55,1.61],[2010.70,1.62],[2010.85,1.63],[2011.00,1.66],[2011.15,1.72],[2011.30,1.80],[2011.45,1.87],[2011.57,1.92],[2011.65,1.93],[2011.75,1.88],[2011.90,1.84],[2012.05,1.78],[2012.20,1.70],[2012.35,1.60],[2012.45,1.57],[2012.55,1.60],[2012.65,1.63],[2012.80,1.61],[2012.95,1.60],[2013.10,1.58],[2013.25,1.58],[2013.40,1.61],[2013.55,1.58],[2013.70,1.55],[2013.85,1.58],[2014.00,1.62],[2014.15,1.66],[2014.30,1.69],[2014.45,1.72],[2014.55,1.76],[2014.65,1.76],[2014.75,1.72],[2014.85,1.66],[2014.95,1.61],[2015.10,1.61],[2015.25,1.62],[2015.40,1.62],[2015.55,1.60],[2015.70,1.57],[2015.85,1.59],[2015.95,1.62],[2016.05,1.58],[2016.15,1.54],[2016.30,1.55],[2016.45,1.53],[2016.60,1.53],[2016.75,1.58],[2016.90,1.64],[2017.00,1.70],[2017.10,1.70],[2017.25,1.66],[2017.40,1.63],[2017.55,1.62],[2017.70,1.63],[2017.85,1.66],[2018.00,1.72],[2018.15,1.76],[2018.30,1.79],[2018.45,1.83]];
const rtAlt2018 = [[2006.00,1.95],[2006.10,1.92],[2006.25,1.94],[2006.40,2.01],[2006.52,2.04],[2006.60,2.03],[2006.70,1.91],[2006.77,1.84],[2006.90,1.86],[2007.00,1.88],[2007.12,1.93],[2007.25,1.90],[2007.40,1.89],[2007.55,1.89],[2007.65,1.95],[2007.80,2.10],[2007.92,2.16],[2008.05,2.18],[2008.20,2.24],[2008.33,2.36],[2008.45,2.47],[2008.55,2.50],[2008.63,2.48],[2008.72,2.33],[2008.82,2.10],[2008.92,1.88],[2009.02,1.68],[2009.15,1.48],[2009.28,1.32],[2009.40,1.21],[2009.52,1.15],[2009.60,1.12],[2009.68,1.17],[2009.78,1.34],[2009.90,1.45],[2010.00,1.51],[2010.10,1.56],[2010.20,1.61],[2010.28,1.64],[2010.40,1.61],[2010.55,1.61],[2010.70,1.62],[2010.85,1.63],[2011.00,1.67],[2011.15,1.73],[2011.30,1.81],[2011.45,1.88],[2011.57,1.93],[2011.65,1.94],[2011.75,1.88],[2011.90,1.83],[2012.05,1.76],[2012.20,1.67],[2012.35,1.57],[2012.45,1.54],[2012.55,1.57],[2012.65,1.62],[2012.80,1.60],[2012.95,1.59],[2013.10,1.57],[2013.25,1.57],[2013.40,1.60],[2013.55,1.57],[2013.70,1.54],[2013.85,1.57],[2014.00,1.62],[2014.15,1.66],[2014.30,1.69],[2014.45,1.72],[2014.55,1.75],[2014.65,1.75],[2014.75,1.71],[2014.85,1.65],[2014.95,1.60],[2015.10,1.60],[2015.25,1.61],[2015.40,1.61],[2015.55,1.59],[2015.70,1.56],[2015.85,1.58],[2015.95,1.61],[2016.05,1.56],[2016.15,1.53],[2016.30,1.53],[2016.45,1.51],[2016.60,1.51],[2016.75,1.56],[2016.90,1.62],[2017.00,1.69],[2017.10,1.69],[2017.25,1.64],[2017.40,1.61],[2017.55,1.61],[2017.70,1.62],[2017.85,1.65],[2018.00,1.71],[2018.15,1.75],[2018.30,1.78],[2018.45,1.81]];

// End-of-vintage readings for the 2019 panels
const endMay2019 = {data: 1.48, trend: 1.74, alt: 1.72};

// ---------- Helpers ----------
const upTo = (s, end) => s.filter(p => p[0] <= end + 1e-9);

const panels = [
  {title: 'June 2009', data: rtData2009, trend: rtTrend2009, alt: rtAlt2009},
  {title: 'June 2010', data: rtData2010, trend: rtTrend2010, alt: rtAlt2010},
  {title: 'June 2011', data: rtData2011, trend: rtTrend2011, alt: rtAlt2011},
  {title: 'June 2012', data: rtData2012, trend: rtTrend2012, alt: rtAlt2012},
  {title: 'June 2013', data: rtData2013, trend: rtTrend2013, alt: rtAlt2013},
  {title: 'June 2014', data: rtData2014, trend: rtTrend2014, alt: rtAlt2014},
  {title: 'June 2015', data: rtData2015, trend: rtTrend2015, alt: rtAlt2015},
  {title: 'June 2016', data: upTo(rtData2015, 2014.45).concat(rtData2016Tail), trend: rtTrend2016, alt: rtAlt2016},
  {title: 'June 2017', data: upTo(rtData2015, 2014.45).concat(rtData2017Tail), trend: rtTrend2017, alt: rtAlt2017},
  {title: 'June 2018', data: upTo(finalData, 2014.55).concat(rtData2018Tail), trend: rtTrend2018, alt: rtAlt2018},
  {title: 'May 2019',
   data: upTo(finalData, 2019.30).concat([[2019.35, endMay2019.data]]),
   trend: upTo(finalTrend, 2019.30).concat([[2019.35, endMay2019.trend]]),
   alt: upTo(finalTrend, 2019.30).concat([[2019.35, endMay2019.alt]])},
  {title: 'June 2019', data: upTo(finalData, 2019.42), trend: upTo(finalTrend, 2019.40), alt: upTo(finalTrend, 2019.40)}
];

const yTickValues = [0.75, 1.00, 1.25, 1.50, 1.75, 2.00, 2.25, 2.50];

// ---------- Layout & style ----------
const COL_LEFT = [31, 447.5, 864];
const ROW_TOP = [39, 311, 582.5, 854];
const PLOT_W = 370, PLOT_H = 223.5;
const TITLE_X = [206, 622.5, 1038];
const TITLE_Y = [24, 296, 568, 839];
const X_MIN = 2006, X_MAX = 2019.473, Y_MIN = 0.70, Y_MAX = 2.705;
const SHADE_START = 2019;

const C_BLACK = '#000000';
const C_THIN_BLACK = '#111111';
const C_THIN_RED = '#bf1f40';
const C_RED = '#a81b2d';
const C_ORANGE = '#efa71a';
const C_GRID = '#d0d0d0';
const C_FRAME = '#3a3a3a';
const C_LABEL = '#333333';
const LABEL_FONT = '"Liberation Serif", "DejaVu Serif", serif';
const TITLE_FONT = '"DejaVu Serif", "Liberation Serif", serif';

const grids = [], xAxes = [], yAxes = [], series = [], graphics = [];

panels.forEach((p, i) => {
  const col = i % 3, row = Math.floor(i / 3);
  grids.push({
    left: COL_LEFT[col], top: ROW_TOP[row], width: PLOT_W, height: PLOT_H,
    show: true, borderColor: C_FRAME, borderWidth: 1.6, backgroundColor: 'transparent'
  });
  const tickStyle = {color: C_FRAME, width: 1};
  xAxes.push({
    gridIndex: i, type: 'value', position: 'bottom', min: X_MIN, max: X_MAX, interval: 1,
    axisLine: {show: false},
    axisTick: {show: true, inside: true, length: 4, lineStyle: tickStyle},
    minorTick: {show: true, splitNumber: 2, length: 4, lineStyle: tickStyle},
    splitLine: {show: true, lineStyle: {color: C_GRID, width: 1}},
    axisLabel: {show: true, margin: 5, fontFamily: LABEL_FONT, fontSize: 10, color: C_LABEL,
      showMaxLabel: false, formatter: v => String(Math.round(v))}
  });
  xAxes.push({
    gridIndex: i, type: 'value', position: 'top', min: X_MIN, max: X_MAX, interval: 1,
    axisLine: {show: false},
    axisTick: {show: true, inside: true, length: 4, lineStyle: tickStyle},
    minorTick: {show: true, splitNumber: 2, length: 4, lineStyle: tickStyle},
    splitLine: {show: false}, axisLabel: {show: false}
  });
  yAxes.push({
    gridIndex: i, type: 'value', min: Y_MIN, max: Y_MAX,
    axisLine: {show: false},
    axisTick: {show: true, inside: true, length: 3, lineStyle: tickStyle, customValues: yTickValues},
    splitLine: {show: true, lineStyle: {color: C_GRID, width: 1}},
    axisLabel: {show: true, margin: 6, fontFamily: LABEL_FONT, fontSize: 9, color: C_LABEL,
      customValues: yTickValues, formatter: v => v.toFixed(2)}
  });

  const base = {type: 'line', xAxisIndex: 2 * i, yAxisIndex: i, showSymbol: false, symbol: 'none',
    animation: false, silent: true};

  series.push(Object.assign({}, base, {
    name: 'latest', data: finalData, lineStyle: {color: C_THIN_BLACK, width: 1},
    markArea: {silent: true, itemStyle: {color: 'rgba(200,200,240,0.55)'},
      data: [[{xAxis: SHADE_START}, {xAxis: X_MAX}]]}
  }));
  series.push(Object.assign({}, base, {name: 'latest trend', data: finalTrend, lineStyle: {color: C_THIN_RED, width: 1}}));
  series.push(Object.assign({}, base, {name: 'real-time', data: p.data, lineStyle: {color: C_BLACK, width: 2}}));
  series.push(Object.assign({}, base, {name: 'alternative trend', data: p.alt, lineStyle: {color: C_ORANGE, width: 2}}));
  series.push(Object.assign({}, base, {name: 'real-time trend', data: p.trend, lineStyle: {color: C_RED, width: 2}}));

  const last = s => s[s.length - 1];
  [[p.data, C_BLACK], [p.alt, C_ORANGE], [p.trend, C_RED]].forEach(([s, c]) => {
    series.push({type: 'scatter', xAxisIndex: 2 * i, yAxisIndex: i, data: [last(s)], symbol: 'circle',
      symbolSize: 6, itemStyle: {color: c, opacity: 1}, animation: false, silent: true, z: 3});
  });

  graphics.push({
    type: 'text', x: TITLE_X[col], y: TITLE_Y[row],
    style: {text: p.title, font: '18px ' + TITLE_FONT, fill: '#1a1a1a', textAlign: 'center', textVerticalAlign: 'middle'}
  });
});

const chart = echarts.init(document.getElementById('chart'), null, {renderer: 'canvas'});
chart.setOption({
  backgroundColor: '#ffffff',
  animation: false,
  grid: grids,
  xAxis: xAxes,
  yAxis: yAxes,
  series: series,
  graphic: graphics
});
</script>
</body>
</html>
